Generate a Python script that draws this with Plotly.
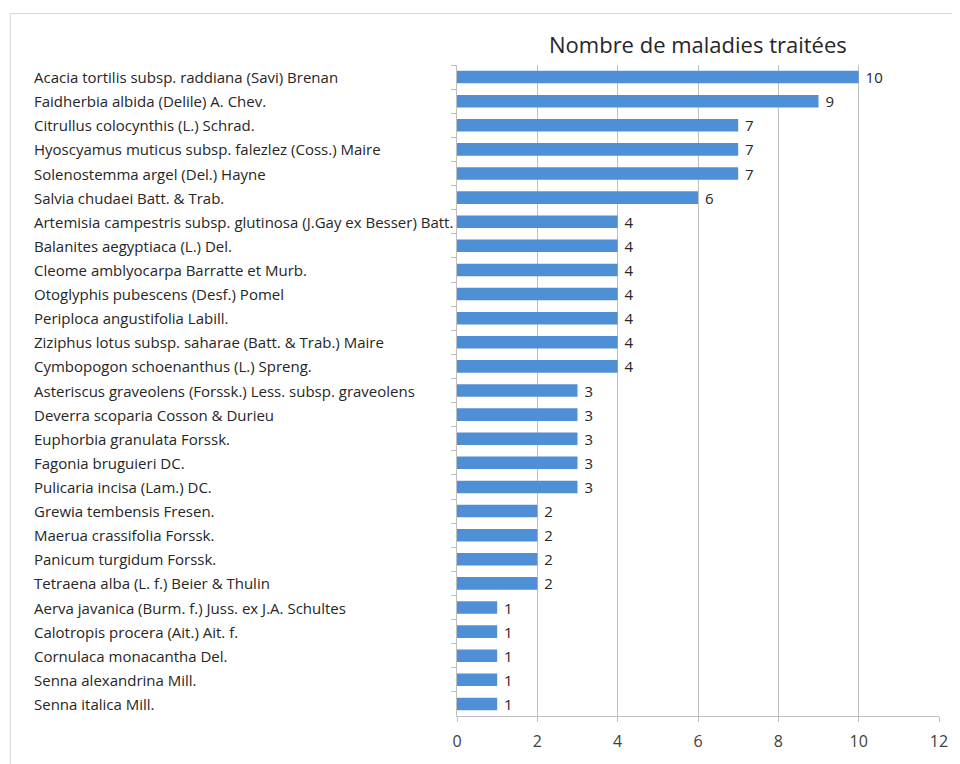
import plotly.graph_objects as go

species = [
    "Acacia tortilis subsp. raddiana (Savi) Brenan",
    "Faidherbia albida (Delile) A. Chev.",
    "Citrullus colocynthis (L.) Schrad.",
    "Hyoscyamus muticus subsp. falezlez (Coss.) Maire",
    "Solenostemma argel (Del.) Hayne",
    "Salvia chudaei Batt. & Trab.",
    "Artemisia campestris subsp. glutinosa (J.Gay ex Besser) Batt.",
    "Balanites aegyptiaca (L.) Del.",
    "Cleome amblyocarpa Barratte et Murb.",
    "Otoglyphis pubescens (Desf.) Pomel",
    "Periploca angustifolia Labill.",
    "Ziziphus lotus subsp. saharae (Batt. & Trab.) Maire",
    "Cymbopogon schoenanthus (L.) Spreng.",
    "Asteriscus graveolens (Forssk.) Less. subsp. graveolens",
    "Deverra scoparia Cosson & Durieu",
    "Euphorbia granulata Forssk.",
    "Fagonia bruguieri DC.",
    "Pulicaria incisa (Lam.) DC.",
    "Grewia tembensis Fresen.",
    "Maerua crassifolia Forssk.",
    "Panicum turgidum Forssk.",
    "Tetraena alba (L. f.) Beier & Thulin",
    "Aerva javanica (Burm. f.) Juss. ex J.A. Schultes",
    "Calotropis procera (Ait.) Ait. f.",
    "Cornulaca monacantha Del.",
    "Senna alexandrina Mill.",
    "Senna italica Mill.",
]
maladies = [10, 9, 7, 7, 7, 6, 4, 4, 4, 4, 4, 4, 4, 3, 3, 3, 3, 3, 2, 2, 2, 2, 1, 1, 1, 1, 1]
x_ticks = [0, 2, 4, 6, 8, 10, 12]
title_text = "Nombre de maladies traitées"

OFF = 8  # page body offset
W, H = 960 - OFF, 764 - OFF
L, T = 457 - OFF, 65 - OFF
R = W - (941 - OFF)
B = H - (716 - OFF)
pw = W - L - R
ph = H - T - B

def px_to_paper_x(px):
    return (px - OFF - L) / pw

def px_to_paper_y(py):
    return 1 - (py - OFF - T) / ph

fig = go.Figure()
fig.add_trace(go.Bar(
    y=species,
    x=maladies,
    orientation="h",
    marker=dict(color="#4F8FD6", line=dict(width=0)),
    text=["\u00a0" + str(v) for v in maladies],
    textposition="outside",
    constraintext="none",
    textfont=dict(family="Open Sans", size=15, color="#262626"),
    cliponaxis=False,
    width=0.52,
))

annotations = []
for s in species:
    annotations.append(dict(
        x=px_to_paper_x(30), xref="paper", y=s, yref="y",
        text=s, showarrow=False, xanchor="left", yanchor="middle",
        font=dict(family="Open Sans", size=15, color="#262626"),
    ))
annotations.append(dict(
    x=0.5, xref="paper", y=px_to_paper_y(44), yref="paper",
    text=title_text, showarrow=False, xanchor="center", yanchor="middle",
    font=dict(family="Open Sans", size=22, color="#262626"),
))

shapes = [dict(
    type="rect", xref="paper", yref="paper",
    x0=px_to_paper_x(8.5), x1=px_to_paper_x(975),
    y0=px_to_paper_y(790), y1=px_to_paper_y(13.5),
    line=dict(color="#D9D9D9", width=1), fillcolor="rgba(0,0,0,0)", layer="below",
)]

fig.update_layout(
    width=W, height=H,
    margin=dict(l=L, r=R, t=T, b=B, pad=0),
    paper_bgcolor="white", plot_bgcolor="white",
    showlegend=False,
    annotations=annotations,
    shapes=shapes,
    xaxis=dict(
        range=[0, 12], tickvals=x_ticks, ticktext=[str(v) for v in x_ticks],
        showgrid=True, gridcolor="#BFBFBF", gridwidth=1,
        showline=True, linecolor="#BFBFBF", linewidth=1,
        ticks="outside", ticklen=5, tickcolor="#BFBFBF",
        ticklabelstandoff=6,
        tickfont=dict(family="Open Sans", size=16, color="#404040"),
        zeroline=False, mirror=False,
    ),
    yaxis=dict(
        autorange="reversed", showticklabels=False,
        showline=True, linecolor="#BFBFBF", linewidth=1,
        ticks="outside", ticklen=5, tickcolor="#BFBFBF",
        tickson="boundaries", showgrid=False,
    ),
)

fig.write_html("out.html")
